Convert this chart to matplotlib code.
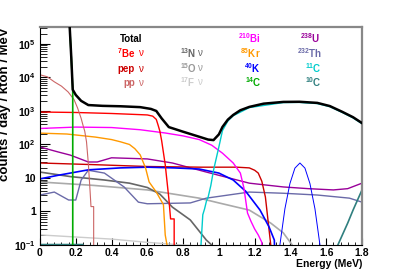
import matplotlib
matplotlib.use("Agg")
import matplotlib.pyplot as plt
from matplotlib.ticker import LogLocator, MultipleLocator, NullFormatter

plt.rcParams['font.family'] = ['Liberation Sans', 'DejaVu Sans']
plt.rcParams['font.weight'] = 'bold'
plt.rcParams['mathtext.default'] = 'regular'

# spectra (energy in MeV, counts / day / kton / MeV)
e_total = [0, 0.1, 0.166, 0.175, 0.183, 0.20, 0.23, 0.27, 0.35, 0.45, 0.56, 0.62, 0.65, 0.68, 0.72,
           0.80, 0.89, 0.94, 0.97, 1.00, 1.02, 1.05, 1.08, 1.12, 1.17, 1.25, 1.36, 1.45, 1.55, 1.62,
           1.69, 1.75, 1.8]
y_total = [1e7, 3e6, 3.2e5, 3.8e4, 4300, 3000, 2000, 1500, 1420, 1380, 1300, 1150, 1000, 600, 330,
           240, 170, 140, 135, 200, 333, 550, 760, 1050, 1320, 1650, 1860, 1880, 1740, 1400,
           940, 650, 435]

e_be7 = [0, 0.2, 0.4, 0.55, 0.6, 0.63, 0.65, 0.66, 0.67, 0.68, 0.70, 0.72, 0.73, 0.75, 0.7501]
y_be7 = [930, 900, 840, 780, 760, 700, 560, 380, 250, 130, 25, 2.5, 0.6, 0.6, 1e-3]

e_pep = [0, 0.3, 0.6, 0.9, 1.1, 1.17, 1.2, 1.22, 1.24, 1.26, 1.28, 1.29, 1.295]
y_pep = [28, 25, 22, 21, 21, 20, 17, 14, 8, 2.7, 0.3, 0.1, 1e-3]

e_pp = [0, 0.04, 0.08, 0.12, 0.157, 0.19, 0.21, 0.23, 0.24, 0.25, 0.26, 0.27, 0.28, 0.285, 0.30, 0.3001]
y_pp = [12000, 10500, 7400, 5500, 3700, 2200, 1230, 600, 380, 250, 120, 28, 4, 1.4, 1.4, 1e-3]

e_n13 = [0, 0.17, 0.36, 0.5, 0.6, 0.67, 0.74, 0.84, 0.93, 0.96, 0.965]
y_n13 = [15, 11, 8.7, 7, 5.2, 3.3, 1.35, 0.56, 0.14, 0.1, 1e-3]

e_o15 = [0, 0.3, 0.6, 0.89, 1.0, 1.17, 1.29, 1.36, 1.41, 1.415]
y_o15 = [7.6, 6, 4.4, 2.5, 1.8, 1.1, 0.45, 0.23, 0.1, 1e-3]

e_f17 = [0, 0.4, 0.6, 0.8, 1.0]
y_f17 = [0.2, 0.15, 0.12, 0.1, 0.085]

e_bi210 = [0, 0.2, 0.4, 0.56, 0.7, 0.8, 0.89, 0.96, 1.02, 1.08, 1.12, 1.14, 1.16, 1.18, 1.2, 1.22, 1.24, 1.245]
y_bi210 = [300, 330, 320, 275, 220, 180, 140, 95, 55, 28, 14, 5, 0.9, 0.5, 0.3, 0.2, 0.12, 1e-3]

e_kr85 = [0, 0.15, 0.31, 0.4, 0.45, 0.5, 0.53, 0.56, 0.59, 0.61, 0.65, 0.69, 0.70, 0.71, 0.712]
y_kr85 = [218, 205, 166, 140, 120, 100, 75, 49, 20, 7.6, 3.8, 1.6, 0.2, 0.1, 1e-3]

e_k40 = [0, 0.1, 0.27, 0.45, 0.6, 0.75, 0.89, 1.0, 1.08, 1.15, 1.23, 1.28, 1.31, 1.32]
y_k40 = [9.4, 12, 17.5, 20, 21, 20, 18.5, 14, 8.7, 4, 1.1, 0.35, 0.14, 1e-3]
e_k40_gamma = [1.341, 1.369, 1.397, 1.425, 1.453, 1.481, 1.509, 1.537, 1.565]
y_k40_gamma = [0.1, 1.2, 6.8, 19.7, 28, 19.7, 6.8, 1.2, 0.1]

e_c14 = [0, 0.1, 0.166, 0.175, 0.183, 0.1831]
y_c14 = [1e7, 3e6, 3.2e5, 3.8e4, 4300, 1e-3]

e_u238 = [0, 0.1, 0.17, 0.27, 0.32, 0.4, 0.6, 0.74, 0.93, 1.17, 1.36, 1.5, 1.64, 1.72, 1.8]
y_u238 = [84, 60, 48, 30, 30, 40, 37, 28, 15, 7, 5.4, 4.8, 4.4, 4.8, 7]

e_th232 = [0, 0.08, 0.16, 0.2, 0.23, 0.27, 0.36, 0.47, 0.55, 0.6, 0.84, 0.93, 1.17, 1.36, 1.55, 1.73, 1.8]
y_th232 = [3.1, 3.8, 2.2, 2.2, 8.7, 17, 14, 5.4, 1.9, 1.7, 1.8, 2.5, 3.8, 3.5, 3.1, 2.5, 1.9]

e_c11 = [0.895, 0.90, 0.91, 0.92, 0.93, 0.94, 0.955, 0.97, 1.0, 1.02, 1.05, 1.08, 1.17, 1.36, 1.45,
         1.55, 1.62, 1.69, 1.75, 1.8]
y_c11 = [1e-3, 0.1, 0.8, 1.2, 2, 2.7, 6, 17, 85, 260, 500, 720, 1260, 1780, 1800,
         1660, 1340, 900, 620, 415]

e_c10 = [0, 0.24, 0.2401, 1.66, 1.665, 1.72, 1.75, 1.8]
y_c10 = [0.103, 0.103, 1e-3, 1e-3, 0.1, 0.45, 1.1, 4.4]

fig = plt.figure(figsize=(4.02, 2.73), dpi=100)
ax = fig.add_axes([40 / 402, 28 / 273, 322 / 402, 218 / 273])

ax.plot(e_f17, y_f17, color='#cccccc', lw=1.0)
ax.plot(e_o15, y_o15, color='#aaaaaa', lw=1.2)
ax.plot(e_n13, y_n13, color='#666666', lw=1.2)
ax.plot(e_th232, y_th232, color='#6a6aa8', lw=1.0)
ax.plot(e_u238, y_u238, color='#990099', lw=1.0)
ax.plot(e_pep, y_pep, color='#cc0000', lw=1.0)
ax.plot(e_k40, y_k40, color='#0000ff', lw=1.2)
ax.plot(e_k40_gamma, y_k40_gamma, color='#0000ff', lw=0.7)
ax.plot(e_kr85, y_kr85, color='#ff9900', lw=1.0)
ax.plot(e_bi210, y_bi210, color='#ff00ff', lw=1.0)
ax.plot(e_be7, y_be7, color='#ff0000', lw=1.0)
ax.plot(e_pp, y_pp, color='#cc6666', lw=0.8)
ax.plot(e_c10, y_c10, color='#2f7f7f', lw=1.2)
ax.plot(e_c11, y_c11, color='#00cccc', lw=1.0)
ax.plot(e_c14, y_c14, color='#00aa00', lw=1.2)
ax.plot(e_total, y_total, color='black', lw=1.8, zorder=5)

ax.set_yscale('log')
ax.set_xlim(0, 1.8)
ax.set_ylim(0.1, 3.2e5)

ax.set_xticks([0, 0.2, 0.4, 0.6, 0.8, 1.0, 1.2, 1.4, 1.6, 1.8])
ax.set_xticklabels(['0', '0.2', '0.4', '0.6', '0.8', '1', '1.2', '1.4', '1.6', '1.8'])
ax.xaxis.set_minor_locator(MultipleLocator(0.04))
ax.set_yticks([0.1, 1, 10, 100, 1e3, 1e4, 1e5])
ax.set_yticklabels(['$10^{-1}$', '1', '10', '$10^{2}$', '$10^{3}$', '$10^{4}$', '$10^{5}$'])
ax.yaxis.set_minor_locator(LogLocator(base=10, subs=range(2, 10)))
ax.yaxis.set_minor_formatter(NullFormatter())

ax.tick_params(which='both', direction='in', labelsize=7.5, top=False, right=False)
ax.tick_params(axis='y', which='major', length=7, pad=3)
ax.tick_params(axis='y', which='minor', length=5)
ax.tick_params(axis='x', which='major', length=5, pad=2)
ax.tick_params(axis='x', which='minor', length=2.5)

for s in ['top', 'right']:
    ax.spines[s].set_color('#888888')
    ax.spines[s].set_linewidth(1.6)

ax.set_ylabel('counts / day / kton / MeV', fontsize=9.5, fontweight='bold', loc='top', labelpad=2)
ax.set_xlabel('Energy (MeV)', fontsize=7.5, fontweight='bold', loc='right', labelpad=1)

# legend texts, positions in pixels of the 402x273 image
def label(px, py, s, color, ha, nu=None):
    fig.text(px / 402, 1 - py / 273, s, color=color, fontsize=7, fontweight='bold', ha=ha, va='center')
    if nu is not None:
        fig.text(nu / 402, 1 - py / 273, 'ν', color=color, fontsize=7, fontweight='normal', ha='left', va='center')

label(142, 39, 'Total', 'black', 'right')
label(135, 53, '$^{7}$Be', '#ff0000', 'right', nu=138)
label(135, 69, 'pep', '#cc0000', 'right', nu=138)
label(135, 83, 'pp', '#cc6666', 'right', nu=138)
label(180, 53, '$^{13}$N', '#666666', 'left', nu=197)
label(180, 68, '$^{15}$O', '#999999', 'left', nu=197)
label(180, 82, '$^{17}$F', '#cccccc', 'left', nu=197)
label(261, 38, '$^{210}$Bi', '#ff00ff', 'right')
label(261, 53, '$^{85}$Kr', '#ff9900', 'right')
label(261, 68, '$^{40}$K', '#0000ff', 'right')
label(262, 82, '$^{14}$C', '#00aa00', 'right')
label(320, 38, '$^{238}$U', '#990099', 'right')
label(322, 53, '$^{232}$Th', '#6a6aa8', 'right')
label(322, 68, '$^{11}$C', '#00cccc', 'right')
label(322, 82, '$^{10}$C', '#2f7f7f', 'right')

fig.savefig('out.png', dpi=100)
